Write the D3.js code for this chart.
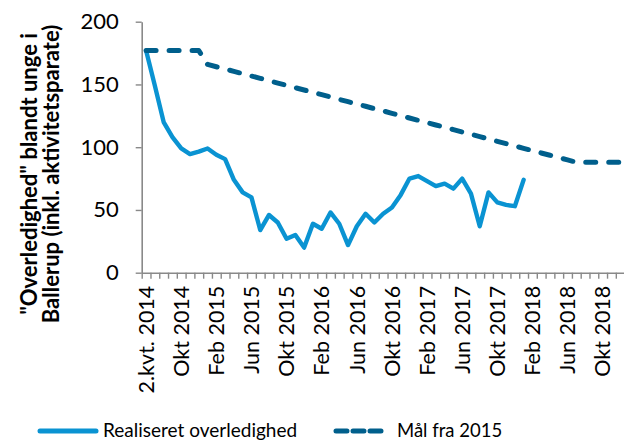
<!DOCTYPE html>
<html>
<head>
<meta charset="utf-8">
<script src="https://cdn.jsdelivr.net/npm/d3@7"></script>
<style>
  body { margin: 0; background: #fff; }
  svg { display: block; font-family: Lato, "Open Sans", sans-serif; }
</style>
</head>
<body>
<div id="chart"></div>
<script>
// ── Data ──
const categories = [
  "2.kvt. 2014", "Jul 2014", "Aug 2014", "Sep 2014", "Okt 2014", "Nov 2014", "Dec 2014",
  "Jan 2015", "Feb 2015", "Mar 2015", "Apr 2015", "Maj 2015", "Jun 2015",
  "Jul 2015", "Aug 2015", "Sep 2015", "Okt 2015", "Nov 2015", "Dec 2015",
  "Jan 2016", "Feb 2016", "Mar 2016", "Apr 2016", "Maj 2016", "Jun 2016",
  "Jul 2016", "Aug 2016", "Sep 2016", "Okt 2016", "Nov 2016", "Dec 2016",
  "Jan 2017", "Feb 2017", "Mar 2017", "Apr 2017", "Maj 2017", "Jun 2017",
  "Jul 2017", "Aug 2017", "Sep 2017", "Okt 2017", "Nov 2017", "Dec 2017",
  "Jan 2018", "Feb 2018", "Mar 2018", "Apr 2018", "Maj 2018", "Jun 2018",
  "Jul 2018", "Aug 2018", "Sep 2018", "Okt 2018", "Nov 2018", "Dec 2018"
];

// shown every 4th month
const xTickLabels = [
  "2.kvt. 2014", "Okt 2014", "Feb 2015", "Jun 2015", "Okt 2015", "Feb 2016", "Jun 2016",
  "Okt 2016", "Feb 2017", "Jun 2017", "Okt 2017", "Feb 2018", "Jun 2018", "Okt 2018"
];

const yTicks = [0, 50, 100, 150, 200];

// Realiseret overledighed (2.kvt. 2014 – Jan 2018)
const realised = [
  177, 149, 120, 108, 99, 94.5, 96.5,
  99, 94, 90.5, 74, 64, 60, 34, 46, 40, 27, 30, 20,
  39, 35, 48, 39, 22, 37, 47, 40, 47, 52, 62, 75,
  77, 73, 69, 71, 67, 75, 63, 37, 64, 56, 54, 53,
  74
];

// Mål fra 2015
const target = [
  177, 177, 177, 177, 177, 177, 177,
  166, 164.1, 162.3, 160.4, 158.6, 156.7, 154.9, 153, 151.1, 149.3, 147.4, 145.6,
  143.7, 141.9, 140, 138.1, 136.3, 134.4, 132.6, 130.7, 128.9, 127, 125.1, 123.3,
  121.4, 119.6, 117.7, 115.9, 114, 112.1, 110.3, 108.4, 106.6, 104.7, 102.9, 101,
  99.1, 97.3, 95.4, 93.6, 91.7, 89.9, 88, 88, 88, 88, 88, 88
];

const seriesNames = ["Realiseret overledighed", "Mål fra 2015"];

// ── Layout ──
const width = 624, height = 441;
const plot = { left: 141.7, right: 624.6, top: 21.7, bottom: 272.7 };
const axisColor = "#898989";
const realColor = "#0A93D2";
const targetColor = "#005F8C";

const svg = d3.select("#chart").append("svg")
  .attr("width", width)
  .attr("height", height);

const x = d3.scaleBand()
  .domain(categories)
  .range([plot.left, plot.right])
  .padding(0);

const xEdge = d3.scaleLinear()
  .domain([0, categories.length])
  .range([plot.left, plot.right]);

const y = d3.scaleLinear()
  .domain([0, 200])
  .range([plot.bottom, plot.top]);

const cx = i => x(categories[i]) + x.bandwidth() / 2;

// ── Axes ──
// category tick marks sit between categories
const xTicksG = svg.append("g")
  .attr("transform", `translate(0,${plot.bottom})`)
  .call(d3.axisBottom(xEdge)
    .tickValues(d3.range(0, categories.length + 1))
    .tickSize(6)
    .tickSizeOuter(0)
    .tickFormat(""));
xTicksG.select(".domain").attr("stroke", axisColor).attr("stroke-width", 1.6);
xTicksG.selectAll(".tick line").attr("stroke", axisColor).attr("stroke-width", 1.4);

const xLabelsG = svg.append("g")
  .attr("transform", `translate(0,${plot.bottom})`)
  .call(d3.axisBottom(x).tickValues(xTickLabels).tickSize(0));
xLabelsG.select(".domain").remove();
xLabelsG.selectAll(".tick text")
  .attr("transform", "rotate(-90)")
  .attr("text-anchor", "end")
  .attr("x", -13)
  .attr("y", 0)
  .attr("dy", "0.36em")
  .attr("fill", "#000")
  .style("font-size", "21.5px")
  .style("font-family", "Lato, sans-serif");

const yAxisG = svg.append("g")
  .attr("transform", `translate(${plot.left},0)`)
  .call(d3.axisLeft(y).tickValues(yTicks).tickSize(6).tickSizeOuter(0).tickPadding(17));
yAxisG.select(".domain").attr("stroke", axisColor).attr("stroke-width", 1.6);
yAxisG.selectAll(".tick line").attr("stroke", axisColor).attr("stroke-width", 1.4);
yAxisG.selectAll(".tick text")
  .attr("fill", "#000")
  .style("font-size", "22px")
  .style("font-family", "Lato, sans-serif");

// y title
const yTitle = svg.append("text")
  .attr("transform", "translate(40,174) rotate(-90)")
  .attr("text-anchor", "middle")
  .style("font-size", "22px")
  .style("font-weight", "bold")
  .attr("fill", "#000");
yTitle.append("tspan").attr("x", 0).attr("y", -3).text('"Overledighed" blandt unge i');
yTitle.append("tspan").attr("x", 0).attr("y", 19).text("Ballerup (inkl. aktivitetsparate)");

// ── Lines ──
const line = d3.line()
  .x((d, i) => cx(i))
  .y(d => y(d));

svg.append("path")
  .datum(realised)
  .attr("fill", "none")
  .attr("stroke", realColor)
  .attr("stroke-width", 4.4)
  .attr("stroke-linejoin", "round")
  .attr("stroke-linecap", "round")
  .attr("d", line);

svg.append("path")
  .datum(target)
  .attr("fill", "none")
  .attr("stroke", targetColor)
  .attr("stroke-width", 5)
  .attr("stroke-linejoin", "round")
  .attr("stroke-linecap", "round")
  .attr("stroke-dasharray", "10,13")
  .attr("d", line);

// ── Legend ──
const legend = svg.append("g").attr("transform", "translate(0,431)");

legend.append("line")
  .attr("x1", 40).attr("x2", 96)
  .attr("stroke", realColor)
  .attr("stroke-width", 5)
  .attr("stroke-linecap", "round");
legend.append("text")
  .attr("x", 103).attr("y", 6)
  .style("font-size", "19px")
  .text(seriesNames[0]);

legend.append("line")
  .attr("x1", 336).attr("x2", 381)
  .attr("stroke", targetColor)
  .attr("stroke-width", 5)
  .attr("stroke-linecap", "round")
  .attr("stroke-dasharray", "11,6");
legend.append("text")
  .attr("x", 397).attr("y", 6)
  .style("font-size", "18.5px")
  .text(seriesNames[1]);
</script>
</body>
</html>
